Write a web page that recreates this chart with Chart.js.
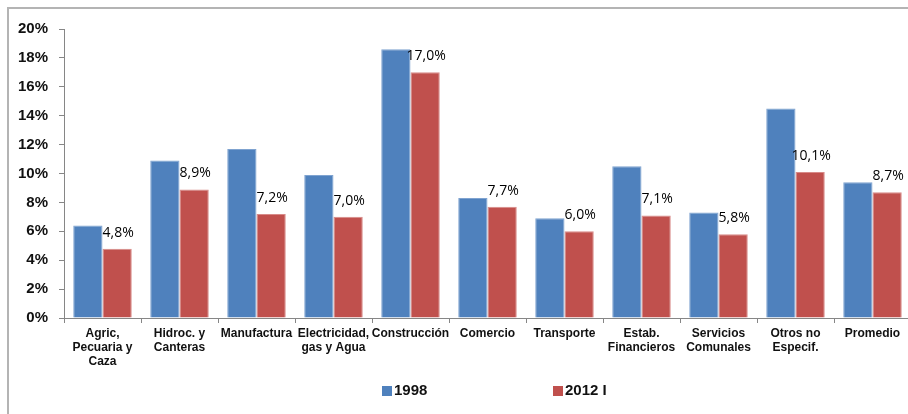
<!DOCTYPE html>
<html>
<head>
<meta charset="utf-8">
<script src="https://cdn.jsdelivr.net/npm/chart.js@4"></script>
<style>
    html, body { margin: 0; padding: 0; background: #fff; overflow: hidden; }
    #wrap { position: relative; width: 908px; height: 414px; overflow: hidden; }
    #frame { position: absolute; left: 7px; top: 7px; width: 1000px; height: 1000px; border: 2px solid #b4b4b4; }
    #chart { position: absolute; left: 0; top: 0; }
</style>
</head>
<body>
<div id="wrap">
    <div id="frame"></div>
    <canvas id="chart" width="916" height="414"></canvas>
</div>
<script>
// sectores
const sectores = [
    ['Agric,', 'Pecuaria y', 'Caza'],
    ['Hidroc. y', 'Canteras'],
    'Manufactura',
    ['Electricidad,', 'gas y Agua'],
    'Construcción',
    'Comercio',
    'Transporte',
    ['Estab.', 'Financieros'],
    ['Servicios', 'Comunales'],
    ['Otros no', 'Especif.'],
    'Promedio'
];
const serie1998 = [6.4, 10.9, 11.7, 9.9, 18.6, 8.3, 6.9, 10.5, 7.3, 14.5, 9.4];
const serie2012 = [4.8, 8.9, 7.2, 7.0, 17.0, 7.7, 6.0, 7.1, 5.8, 10.1, 8.7];
const nombresSerie = ['1998', '2012 I'];
const colores = ['#4F81BD', '#C0504D'];
const ticksY = [0, 2, 4, 6, 8, 10, 12, 14, 16, 18, 20];

// etiquetas sobre las barras rojas
const etiquetas = {
    id: 'etiquetas',
    afterDatasetsDraw: function (chart) {
        const ctx = chart.ctx;
        const meta = chart.getDatasetMeta(1);
        ctx.save();
        ctx.font = '14px "Open Sans", sans-serif';
        ctx.fillStyle = '#000';
        ctx.textAlign = 'center';
        ctx.textBaseline = 'middle';
        meta.data.forEach(function (bar, i) {
            const txt = serie2012[i].toFixed(1).replace('.', ',') + '%';
            ctx.fillText(txt, bar.x + 1, bar.y - 16);
        });
        ctx.restore();
    }
};

// leyenda abajo
const leyenda = {
    id: 'leyenda',
    afterDraw: function (chart) {
        const ctx = chart.ctx;
        const pos = [382, 553];
        ctx.save();
        ctx.font = 'bold 15px "Liberation Sans", Arial, sans-serif';
        ctx.textBaseline = 'middle';
        ctx.textAlign = 'left';
        chart.data.datasets.forEach(function (ds, i) {
            ctx.fillStyle = ds.backgroundColor;
            ctx.fillRect(pos[i], 386, 10, 10);
            ctx.fillStyle = '#111';
            ctx.fillText(ds.label, pos[i] + 12, 391);
        });
        ctx.restore();
    }
};

new Chart(document.getElementById('chart'), {
    type: 'bar',
    data: {
        labels: sectores,
        datasets: [
            {
                label: nombresSerie[0],
                data: serie1998,
                backgroundColor: colores[0],
                borderColor: '#7fa3d0',
                borderWidth: 1,
                categoryPercentage: 0.76,
                barPercentage: 1.0
            },
            {
                label: nombresSerie[1],
                data: serie2012,
                backgroundColor: colores[1],
                borderColor: '#d88a88',
                borderWidth: 1,
                categoryPercentage: 0.76,
                barPercentage: 1.0
            }
        ]
    },
    options: {
        responsive: false,
        animation: false,
        layout: { padding: { top: 29, right: 5, bottom: 0, left: 0 } },
        plugins: {
            legend: { display: false },
            tooltip: { enabled: false }
        },
        scales: {
            x: {
                grid: {
                    offset: true,
                    drawOnChartArea: false,
                    tickLength: 5,
                    color: '#868686'
                },
                border: { color: '#868686', width: 1 },
                ticks: {
                    autoSkip: false,
                    maxRotation: 0,
                    minRotation: 0,
                    padding: 4,
                    color: '#111',
                    font: { family: '"Liberation Sans", Arial, sans-serif', size: 12, weight: 'bold', lineHeight: 1.17 }
                },
                afterFit: function (scale) { scale.height = 96; }
            },
            y: {
                min: 0,
                max: 20,
                afterBuildTicks: function (scale) {
                    scale.ticks = ticksY.map(function (v) { return { value: v }; });
                },
                grid: {
                    drawOnChartArea: false,
                    tickLength: 5,
                    color: '#868686'
                },
                border: { color: '#868686', width: 1 },
                ticks: {
                    padding: 11,
                    color: '#111',
                    font: { family: '"Liberation Sans", Arial, sans-serif', size: 15, weight: 'bold' },
                    callback: function (v) { return v + '%'; }
                },
                afterFit: function (scale) { scale.width = 64; }
            }
        }
    },
    plugins: [etiquetas, leyenda]
});
</script>
</body>
</html>
